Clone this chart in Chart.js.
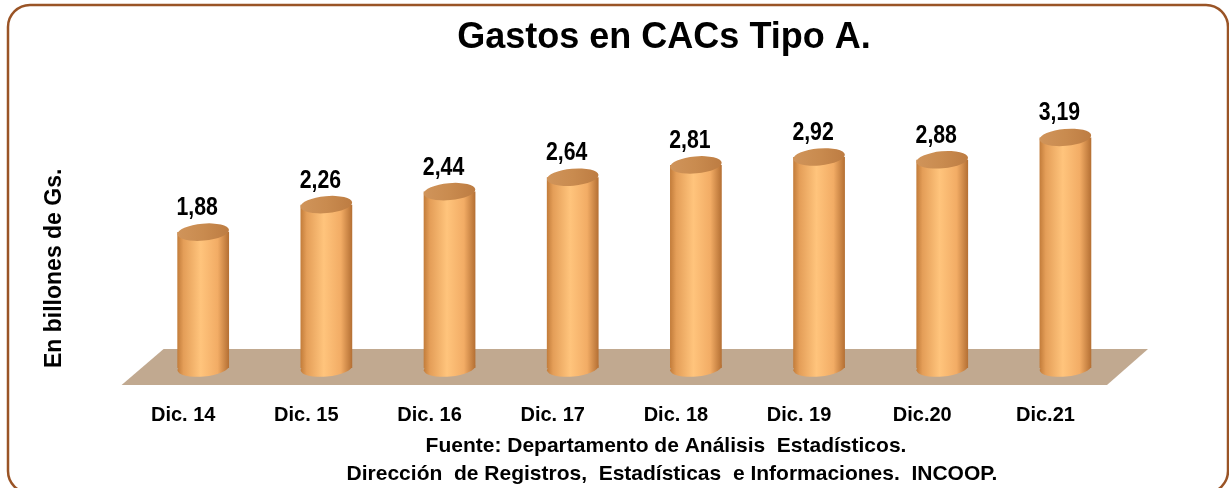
<!DOCTYPE html>
<html>
<head>
<meta charset="utf-8">
<script src="https://cdn.jsdelivr.net/npm/chart.js@4/dist/chart.umd.min.js"></script>
<style>
  html, body { margin: 0; padding: 0; background: #ffffff; }
  #c { display: block; }
</style>
</head>
<body>
<canvas id="c" width="1229" height="488"></canvas>
<script>
// ---- Data ----
const categories = ['Dic. 14', 'Dic. 15', 'Dic. 16', 'Dic. 17', 'Dic. 18', 'Dic. 19', 'Dic.20', 'Dic.21'];
const gastos = [1.88, 2.26, 2.44, 2.64, 2.81, 2.92, 2.88, 3.19];
const titleText = 'Gastos en CACs Tipo A.';
const yAxisLabel = 'En billones de Gs.';
const sourceLines = [
  'Fuente: Departamento de Análisis  Estadísticos.',
  'Dirección  de Registros,  Estadísticas  e Informaciones.  INCOOP.'
];

const BAR_FRACTION = 0.42;
const FONT = "'Liberation Sans', Arial, sans-serif";
Chart.defaults.font.family = FONT;

function bodyGradient(ctx, cx, w) {
  const g = ctx.createLinearGradient(cx - w / 2, 0, cx + w / 2, 0);
  g.addColorStop(0, '#C27C3A');
  g.addColorStop(0.12, '#E49E58');
  g.addColorStop(0.45, '#FFC47C');
  g.addColorStop(0.78, '#F2AC65');
  g.addColorStop(1, '#B46F33');
  return g;
}

function fmt(v) { return v.toFixed(2).replace('.', ','); }

const cylinderPlugin = {
  id: 'cylinders',
  beforeDraw(chart) {
    const ctx = chart.ctx;
    ctx.save();
    ctx.fillStyle = '#ffffff';
    ctx.fillRect(0, 0, chart.width, chart.height);
    // rounded frame
    const x = 8, y = 5, r = 22, right = 1228, bottom = 493;
    ctx.beginPath();
    ctx.moveTo(x + r, y);
    ctx.lineTo(right - r, y);
    ctx.arcTo(right, y, right, y + r, r);
    ctx.lineTo(right, bottom - r);
    ctx.arcTo(right, bottom, right - r, bottom, r);
    ctx.lineTo(x + r, bottom);
    ctx.arcTo(x, bottom, x, bottom - r, r);
    ctx.lineTo(x, y + r);
    ctx.arcTo(x, y, x + r, y, r);
    ctx.closePath();
    ctx.lineWidth = 2.5;
    ctx.strokeStyle = '#9A5426';
    ctx.stroke();
    // title
    ctx.fillStyle = '#000000';
    ctx.textAlign = 'center';
    ctx.textBaseline = 'middle';
    ctx.font = 'bold 36px ' + FONT;
    ctx.fillText(titleText, 664, 38);
    // source lines
    ctx.font = 'bold 21px ' + FONT;
    ctx.fillText(sourceLines[0], 666, 446);
    ctx.fillText(sourceLines[1], 672, 474);
    ctx.restore();
  },
  beforeDatasetsDraw(chart) {
    const ctx = chart.ctx;
    const a = chart.chartArea;
    const y0 = chart.scales.y.getPixelForValue(0);
    ctx.save();
    ctx.beginPath();
    ctx.moveTo(a.left + 22, y0 - 19);
    ctx.lineTo(a.right + 21, y0 - 19);
    ctx.lineTo(a.right - 20, y0 + 17);
    ctx.lineTo(a.left - 20, y0 + 17);
    ctx.closePath();
    ctx.fillStyle = '#C1A990';
    ctx.fill();
    ctx.restore();
  },
  afterDatasetsDraw(chart) {
    const ctx = chart.ctx;
    const meta = chart.getDatasetMeta(0);
    const ry = 8.5, rot = -0.09;
    ctx.save();
    meta.data.forEach((el, i) => {
      const w = el.width;
      // bottom of cylinder
      ctx.beginPath();
      ctx.ellipse(el.x, el.base, w / 2, ry, rot, 0, Math.PI * 2);
      ctx.fillStyle = bodyGradient(ctx, el.x, w);
      ctx.fill();
      // top cap
      const tg = ctx.createLinearGradient(el.x - w / 2, 0, el.x + w / 2, 0);
      tg.addColorStop(0, '#D0945A');
      tg.addColorStop(0.5, '#C98B4F');
      tg.addColorStop(1, '#BD7C42');
      ctx.beginPath();
      ctx.ellipse(el.x, el.y, w / 2, ry, rot, 0, Math.PI * 2);
      ctx.fillStyle = tg;
      ctx.fill();
      // value label (condensed bold)
      ctx.save();
      ctx.translate(el.x - 6, el.y - 17);
      ctx.scale(0.85, 1);
      ctx.fillStyle = '#000000';
      ctx.font = 'bold 25px ' + FONT;
      ctx.textAlign = 'center';
      ctx.textBaseline = 'alphabetic';
      ctx.fillText(fmt(gastos[i]), 0, 0);
      ctx.restore();
    });
    ctx.restore();
  }
};

new Chart(document.getElementById('c'), {
  type: 'bar',
  data: {
    labels: categories,
    datasets: [{
      label: 'Gastos',
      data: gastos,
      borderWidth: 0,
      categoryPercentage: 1,
      barPercentage: BAR_FRACTION,
      backgroundColor: (c) => {
        const chart = c.chart;
        const xs = chart.scales && chart.scales.x;
        if (!xs || c.dataIndex === undefined || !xs.width) return '#F4B26C';
        const cx = xs.getPixelForValue(c.dataIndex);
        const w = xs.width / categories.length * BAR_FRACTION;
        return bodyGradient(chart.ctx, cx, w);
      }
    }]
  },
  options: {
    responsive: false,
    animation: false,
    devicePixelRatio: 1,
    layout: { padding: { left: 10, right: 102, top: 115, bottom: 34 } },
    plugins: {
      legend: { display: false },
      tooltip: { enabled: false },
      title: { display: false }
    },
    scales: {
      x: {
        grid: { display: false },
        border: { display: false },
        ticks: {
          color: '#000000',
          font: { size: 20, weight: 'bold' },
          padding: 27,
          labelOffset: -20,
          maxRotation: 0,
          autoSkip: false
        }
      },
      y: {
        min: 0,
        max: 3.5,
        grid: { display: false },
        border: { display: false },
        ticks: { display: false },
        title: {
          display: true,
          text: yAxisLabel,
          align: 'start',
          color: '#000000',
          font: { size: 23, weight: 'bold' },
          padding: { top: 31, bottom: 65 }
        }
      }
    }
  },
  plugins: [cylinderPlugin]
});
</script>
</body>
</html>
